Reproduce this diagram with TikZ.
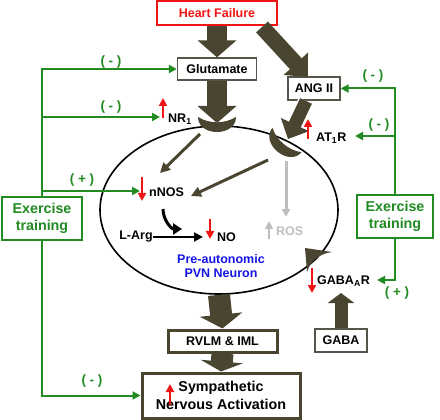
\documentclass[tikz,border=0pt]{standalone}
\usepackage{fontspec}
\setmainfont{Liberation Sans}
\usetikzlibrary{arrows.meta,shapes.geometric}
\definecolor{hfolive}{RGB}{74,69,48}
\definecolor{hfred}{RGB}{240,20,20}
\definecolor{exgreen}{RGB}{34,139,34}
\definecolor{hfblue}{RGB}{20,20,230}
\definecolor{boxgray}{RGB}{85,85,75}
\definecolor{rosgray}{RGB}{190,190,190}
\tikzset{
  graybox/.style={draw=boxgray, line width=1.3pt, fill=white, inner sep=0pt, minimum height=22pt},
  olivebox/.style={draw=hfolive, line width=3pt, fill=white, inner sep=0pt, align=center},
  exbox/.style={draw=exgreen, line width=2.2pt, fill=white, text=exgreen, align=center, inner sep=0pt,
     minimum height=43pt, font=\bfseries\fontsize{14.3}{17}\selectfont},
  fatarrow/.style={draw=hfolive, line width=20pt, -{Triangle[width=38pt,length=17pt]}},
  greenarrow/.style={draw=exgreen, line width=2pt, -{Triangle[width=8pt,length=8pt]}},
  redarrow/.style={draw=hfred, line width=2.5pt, -{Triangle[width=8pt,length=8pt]}},
  grayarrow/.style={draw=rosgray, line width=2.5pt, -{Triangle[width=8pt,length=8pt]}},
  thinolive/.style={draw=hfolive, line width=3pt, -{Triangle[width=10pt,length=10pt]}},
  sign/.style={text=exgreen, inner sep=0pt, font=\bfseries\fontsize{13.5}{14}\selectfont},
  lbl/.style={anchor=west, inner sep=0pt},
  cup/.pic={\fill[hfolive] (-19,0) .. controls (-19,20) and (19,20) .. (19,0)
      .. controls (8,7) and (-8,7) .. (-19,0) -- cycle;}
}
\begin{document}
\begin{tikzpicture}[x=1pt,y=-1pt, font=\bfseries\fontsize{12.5}{14}\selectfont]
\useasboundingbox (0,0) rectangle (440,420);

% neuron ellipse
\node[draw, line width=1.6pt, ellipse, minimum width=238pt, minimum height=168pt, inner sep=0pt] (neuron) at (219,210) {};
\node[text=hfblue, align=center, inner sep=0pt] (pvn) at (221,266.5) {Pre-autonomic\\PVN Neuron};

% boxes
\node[draw=hfred, line width=1.6pt, text=hfred, minimum width=120pt, minimum height=24pt, inner sep=0pt] (hf) at (217,13) {Heart Failure};
\node[graybox, minimum width=79pt] (glu) at (217,69) {Glutamate};
\node[graybox, minimum width=52pt, minimum height=23pt] (ang) at (314,88.5) {ANG II};
\node[graybox, minimum width=52pt, minimum height=23pt] (gaba) at (341,340.5) {GABA};
\node[olivebox, minimum width=109pt, minimum height=22pt] (rvlm) at (222.5,341) {RVLM \& IML};
\node[olivebox, minimum width=158pt, minimum height=45pt, font=\bfseries\fontsize{14.3}{18}\selectfont] (sna) at (221,395.5) {Sympathetic\\Nervous Activation};
\node[exbox, minimum width=80pt] (exl) at (42,218.5) {Exercise\\training};
\node[exbox, minimum width=76pt] (exr) at (395,216.5) {Exercise\\training};

% receptors
\pic at (217,117) {cup};
\pic[rotate=-40] at (287,140) {cup};
\fill[hfolive] (305,248) -- (332,252) .. controls (319,254) and (310.5,260.6) .. (307,272) -- cycle;

% coordinates
\coordinate (nmdatip) at (217,123);
\coordinate (hfr) at (262,27);
\coordinate (angtip) at (308,77);
\coordinate (angst) at (306,101);
\coordinate (at1tip) at (288,139);
\coordinate (gabatip) at (341,293);

% fat arrows
\draw[fatarrow] (hf.south) -- (glu.north);
\draw[fatarrow, preaction={draw=white, line width=24pt, -{Triangle[width=45pt,length=21pt]}}] (glu.south) -- (nmdatip);
\draw[fatarrow, line width=16pt, -{Triangle[width=32pt,length=18pt]}] (hfr) -- (angtip);
\draw[fatarrow, line width=13pt, -{Triangle[width=30pt,length=16pt]},
   preaction={draw=white, line width=16pt, -{Triangle[width=36pt,length=20pt]}}] (angst) -- (at1tip);
\draw[fatarrow, line width=22pt, -{Triangle[width=42pt,length=14pt]}] (neuron.south) -- (rvlm.north);
\draw[fatarrow, line width=22pt, -{Triangle[width=42pt,length=10pt]}] (rvlm.south) -- (sna.north);
\draw[fatarrow, line width=13pt, -{Triangle[width=26pt,length=10pt]}] (gaba.north) -- (gabatip);

% inner arrows
\coordinate (nm1) at (200,134);
\coordinate (nn1) at (160,173);
\coordinate (at1) at (268,160);
\coordinate (nn2) at (191,196);
\coordinate (ros1) at (286,161);
\coordinate (ros2) at (286,217);
\draw[thinolive] (nm1) -- (nn1);
\draw[thinolive] (at1) -- (nn2);
\draw[grayarrow, line width=3pt] (ros1) -- (ros2);

% labels
\node[lbl] (nr1) at (168,119) {NR\textsubscript{1}};
\node[lbl] (at1r) at (316,138) {AT\textsubscript{1}R};
\node[lbl] (nnos) at (149,192) {nNOS};
\node[lbl] (no) at (217,237) {NO};
\node[lbl] (gabar) at (317,281) {GABA\textsubscript{A}R};
\node[lbl, text=rosgray] (ros) at (276,231) {ROS};
\node[inner sep=0pt] (larg) at (136,237) {L-Arg};

\coordinate (largend) at (203,237);
\draw[black, line width=2pt, -{Triangle[width=9pt,length=9pt]}] (larg.east) -- (largend);
\coordinate (cv1) at (163,209);
\coordinate (cv2) at (182,229);
\draw[black, line width=3pt, -{Triangle[width=11pt,length=9pt]}] (cv1) to[out=-90,in=180] (cv2);

% red indicator arrows
\draw[redarrow] (163,118) -- (163,98);
\draw[redarrow] (308,139) -- (308,119);
\draw[redarrow] (142,177) -- (142,201);
\draw[redarrow] (210,219) -- (210,239);
\draw[redarrow] (312,268) -- (312,293);
\draw[grayarrow] (269,239) -- (269,221);
\draw[redarrow] (170,405) -- (170,384);

% green feedback
\coordinate (l2) at (42,117);
\coordinate (nrtip) at (160,117);
\coordinate (l3) at (42,191);
\coordinate (nnostip) at (140,191);
\coordinate (r2) at (395,136);
\coordinate (attip) at (355,136);
\coordinate (gabartip) at (377,280);
\draw[greenarrow] (exl.north) |- (glu.west);
\draw[greenarrow] (l2) -- (nrtip);
\draw[greenarrow] (l3) -- (nnostip);
\draw[greenarrow] (exl.south) |- (sna.west);
\draw[greenarrow] (exr.north) |- (ang.east);
\draw[greenarrow] (r2) -- (attip);
\draw[greenarrow] (exr.south) |- (gabartip);

\node[sign] (s1) at (111,62) {( - )};
\node[sign] (s2) at (111,107) {( - )};
\node[sign] (s3) at (82,180) {( + )};
\node[sign] (s4) at (92,381) {( - )};
\node[sign] (s5) at (373,76) {( - )};
\node[sign] (s6) at (379,125) {( - )};
\node[sign] (s7) at (397,293) {( + )};
\end{tikzpicture}
\end{document}
